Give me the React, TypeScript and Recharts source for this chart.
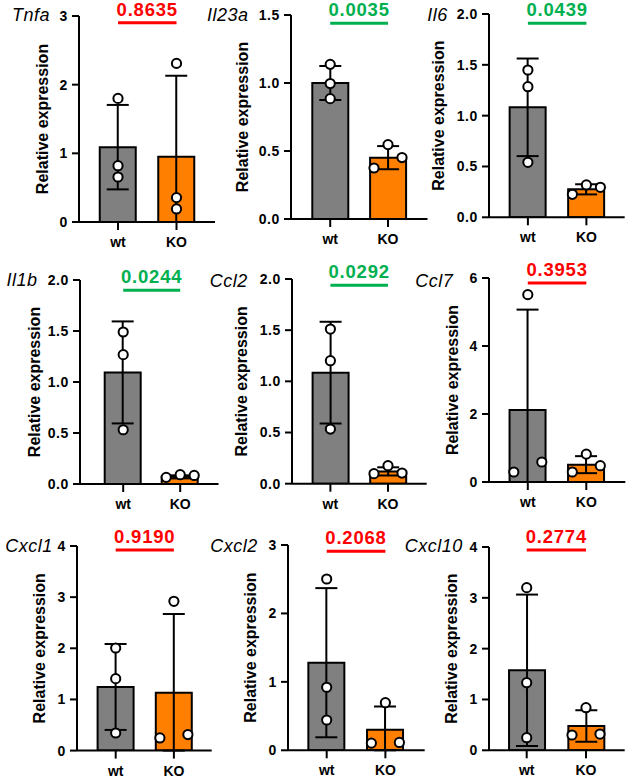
import React from 'react';
import {
  ComposedChart,
  Bar,
  Cell,
  ErrorBar,
  Scatter,
  XAxis,
  YAxis,
  ReferenceLine,
  Label,
} from 'recharts';

// ---- data -------------------------------------------------------------
const GROUPS = ['wt', 'KO'];
const GENES = ['Tnfa', 'Il23a', 'Il6', 'Il1b', 'Ccl2', 'Ccl7', 'Cxcl1', 'Cxcl2', 'Cxcl10'];
const P_VALUES = ['0.8635', '0.0035', '0.0439', '0.0244', '0.0292', '0.3953', '0.9190', '0.2068', '0.2774'];
const SIGNIFICANT = [false, true, true, true, true, false, false, false, false];

const Y_MAX = [3, 1.5, 2, 2, 2, 6, 4, 3, 4];
const Y_TICKS = [
  [0, 1, 2, 3],
  [0, 0.5, 1, 1.5],
  [0, 0.5, 1, 1.5, 2],
  [0, 0.5, 1, 1.5, 2],
  [0, 0.5, 1, 1.5, 2],
  [0, 2, 4, 6],
  [0, 1, 2, 3, 4],
  [0, 1, 2, 3],
  [0, 1, 2, 3, 4],
];

const WT_MEAN = [1.09, 1.0, 1.082, 1.094, 1.085, 2.12, 1.244, 1.28, 1.574];
const WT_SD = [0.615, 0.125, 0.48, 0.5, 0.497, 2.95, 0.84, 1.09, 1.49];
const KO_MEAN = [0.95, 0.451, 0.275, 0.07, 0.12, 0.51, 1.13, 0.3, 0.478];
const KO_SD = [1.18, 0.085, 0.05, 0.015, 0.04, 0.25, 1.54, 0.34, 0.31];

const WT_POINTS = [
  [1.8, 0.82, 0.655],
  [1.137, 0.996, 0.885],
  [1.449, 1.285, 0.541],
  [1.49, 1.268, 0.532],
  [1.511, 1.202, 0.534],
  [5.51, 0.588, 0.294],
  [2.006, 1.407, 0.344],
  [2.503, 0.921, 0.443],
  [3.2, 1.33, 0.248],
];
const KO_POINTS = [
  [2.31, 0.355, 0.19],
  [0.547, 0.452, 0.375],
  [0.318, 0.295, 0.226],
  [0.091, 0.084, 0.065],
  [0.176, 0.104, 0.098],
  [0.82, 0.48, 0.294],
  [2.919, 0.313, 0.247],
  [0.696, 0.115, 0.105],
  [0.838, 0.32, 0.301],
];

// height (in axis units) of the comparison bracket under each p value
const BRACKET_LEVEL = [2.9, 1.44, 1.91, 1.9, 1.94, 5.85, 3.92, 2.91, 3.94];

// ---- layout (page pixels) ---------------------------------------------
const LAYOUT = [
  { axisX: 79, top: 16, bottom: 222, end: 215, wtX: 118, koX: 176.5, titleX: 50, titleY: 20.7, labelGap: 37 },
  { axisX: 290.5, top: 14.7, bottom: 218.7, end: 427, wtX: 329.7, koX: 387.5, titleX: 248, titleY: 20.7, labelGap: 49 },
  { axisX: 489.3, top: 14, bottom: 217.3, end: 625, wtX: 528.2, koX: 586.7, titleX: 448, titleY: 21, labelGap: 50 },
  { axisX: 79.5, top: 280.3, bottom: 484.3, end: 218, wtX: 122.7, koX: 179.7, titleX: 37, titleY: 286.5, labelGap: 46 },
  { axisX: 292.3, top: 279, bottom: 483.7, end: 427, wtX: 330.7, koX: 388.3, titleX: 248, titleY: 287, labelGap: 50 },
  { axisX: 488.7, top: 278.3, bottom: 482.3, end: 625, wtX: 527.5, koX: 586, titleX: 453, titleY: 287, labelGap: 36 },
  { axisX: 77.3, top: 545.7, bottom: 750.3, end: 212, wtX: 116, koX: 174.2, titleX: 53, titleY: 551.5, labelGap: 37 },
  { axisX: 288.3, top: 545, bottom: 750.3, end: 425, wtX: 327, koX: 385.7, titleX: 258, titleY: 552, labelGap: 37.5 },
  { axisX: 489.3, top: 547, bottom: 750.3, end: 625, wtX: 527, koX: 586.3, titleX: 463, titleY: 552, labelGap: 37 },
];

const FONT = "'Liberation Sans', Arial, Helvetica, sans-serif";
const Y_AXIS_W = 90;
const MARGIN_TOP = 24;
const MARGIN_RIGHT = 3;
const X_AXIS_H = 32;
const DOT_R = 4.6;
const JITTER = 14;
const BAR_FILL = ['#808080', '#FF8000'];
const RED = '#FF0000';
const GREEN = '#00B050';

// Horizontal slot (-1 left, 0 centre, 1 right) for each replicate so that
// dots that would overlap vertically are spread side by side.
function spreadSlots(values: number[], pxPerUnit: number): number[] {
  const order = values.map((_, i) => i).sort((a, b) => values[b] - values[a]);
  const slots = values.map(() => 0);
  let cluster: number[] = [order[0]];
  const flush = () => {
    if (cluster.length === 2) {
      slots[cluster[0]] = 1;
      slots[cluster[1]] = -1;
    } else if (cluster.length >= 3) {
      slots[cluster[0]] = 0;
      slots[cluster[1]] = 1;
      slots[cluster[2]] = -1;
    }
  };
  for (let k = 1; k < order.length; k++) {
    const prev = order[k - 1];
    const cur = order[k];
    if ((values[prev] - values[cur]) * pxPerUnit < 11) {
      cluster.push(cur);
    } else {
      flush();
      cluster = [cur];
    }
  }
  flush();
  return slots;
}

const makeDot = (k: number) => (props: any) => {
  const { cx, cy, payload } = props;
  if (cx == null || cy == null) return <g />;
  const off = (payload?.slots?.[k] ?? 0) * JITTER;
  return <circle cx={cx + off} cy={cy} r={DOT_R} fill="#FFFFFF" stroke="#000000" strokeWidth={2} />;
};

function Panel({ i }: { i: number }) {
  const L = LAYOUT[i];
  const plotW = L.end - L.axisX;
  const plotH = L.bottom - L.top;
  const band = L.koX - L.wtX;
  const padL = L.wtX - L.axisX - band / 2;
  const padR = plotW - padL - 2 * band;
  const pxPerUnit = plotH / Y_MAX[i];
  const decimals = Y_TICKS[i].some((t) => !Number.isInteger(t));

  const rows = GROUPS.map((g, gi) => {
    const mean = gi === 0 ? WT_MEAN[i] : KO_MEAN[i];
    const sd = gi === 0 ? WT_SD[i] : KO_SD[i];
    const pts = gi === 0 ? WT_POINTS[i] : KO_POINTS[i];
    return {
      group: g,
      mean,
      err: [Math.min(sd, mean), sd],
      p0: pts[0],
      p1: pts[1],
      p2: pts[2],
      slots: spreadSlots(pts, pxPerUnit),
    };
  });

  const chartW = Y_AXIS_W + plotW + MARGIN_RIGHT;
  const chartH = MARGIN_TOP + plotH + X_AXIS_H;
  const color = SIGNIFICANT[i] ? GREEN : RED;

  const renderTitles = (props: any) => {
    const vb = props?.viewBox ?? {};
    const ax = vb.width != null ? vb.x + vb.width : Y_AXIS_W;
    const top = vb.y != null ? vb.y : MARGIN_TOP;
    const h = vb.height != null ? vb.height : plotH;
    const cx = ax - L.labelGap;
    const cy = top + h / 2;
    return (
      <g>
        <text
          transform={`translate(${cx},${cy}) rotate(-90)`}
          textAnchor="middle"
          dominantBaseline="central"
          fontFamily={FONT}
          fontWeight="bold"
          fontSize={16}
          fill="#000"
        >
          Relative expression
        </text>
        <text
          x={ax + (L.titleX - L.axisX)}
          y={top + (L.titleY - L.top)}
          textAnchor="end"
          fontFamily={FONT}
          fontStyle="italic"
          fontSize={18}
          letterSpacing={0.5}
          fill="#000"
        >
          {GENES[i]}
        </text>
      </g>
    );
  };

  return (
    <div
      style={{
        position: 'absolute',
        left: L.axisX - Y_AXIS_W,
        top: L.top - MARGIN_TOP,
        width: chartW,
        height: chartH,
      }}
    >
      <ComposedChart
        width={chartW}
        height={chartH}
        data={rows}
        margin={{ top: MARGIN_TOP, right: MARGIN_RIGHT, bottom: 0, left: 0 }}
      >
        <XAxis
          dataKey="group"
          type="category"
          height={X_AXIS_H}
          padding={{ left: padL, right: padR }}
          axisLine={{ stroke: '#000', strokeWidth: 2 }}
          tickLine={{ stroke: '#000', strokeWidth: 2 }}
          tickSize={8}
          tickMargin={7}
          tick={{ fill: '#000', fontSize: 14, fontWeight: 'bold', fontFamily: FONT }}
          interval={0}
        />
        <YAxis
          type="number"
          width={Y_AXIS_W}
          domain={[0, Y_MAX[i]]}
          ticks={Y_TICKS[i]}
          interval={0}
          allowDataOverflow
          axisLine={{ stroke: '#000', strokeWidth: 2 }}
          tickLine={{ stroke: '#000', strokeWidth: 2 }}
          tickSize={7}
          tickMargin={4}
          tickFormatter={(v: number) => (decimals ? v.toFixed(1) : String(v))}
          tick={{ fill: '#000', fontSize: 14, fontWeight: 'bold', fontFamily: FONT, letterSpacing: 0.6 }}
        >
          <Label content={renderTitles} />
        </YAxis>
        <Bar dataKey="mean" barSize={36} stroke="#000" strokeWidth={2} isAnimationActive={false}>
          {rows.map((r, gi) => (
            <Cell key={r.group} fill={BAR_FILL[gi]} />
          ))}
          <ErrorBar dataKey="err" width={11} stroke="#000" strokeWidth={2} direction="y" />
        </Bar>
        <Scatter dataKey="p0" shape={makeDot(0)} isAnimationActive={false} />
        <Scatter dataKey="p1" shape={makeDot(1)} isAnimationActive={false} />
        <Scatter dataKey="p2" shape={makeDot(2)} isAnimationActive={false} />
        <ReferenceLine
          segment={[
            { x: 'wt', y: BRACKET_LEVEL[i] },
            { x: 'KO', y: BRACKET_LEVEL[i] },
          ]}
          stroke={color}
          strokeWidth={3}
          ifOverflow="visible"
          label={{
            value: P_VALUES[i],
            position: 'top',
            offset: 7,
            fill: color,
            fontSize: 18.5,
            fontWeight: 'bold',
            fontFamily: FONT,
            letterSpacing: 0.8,
          }}
        />
      </ComposedChart>
    </div>
  );
}

export default function App() {
  return (
    <div
      style={{
        position: 'absolute',
        left: 0,
        top: 0,
        width: 626,
        height: 777,
        background: '#FFFFFF',
        overflow: 'hidden',
      }}
    >
      {GENES.map((g, i) => (
        <Panel key={g} i={i} />
      ))}
    </div>
  );
}
